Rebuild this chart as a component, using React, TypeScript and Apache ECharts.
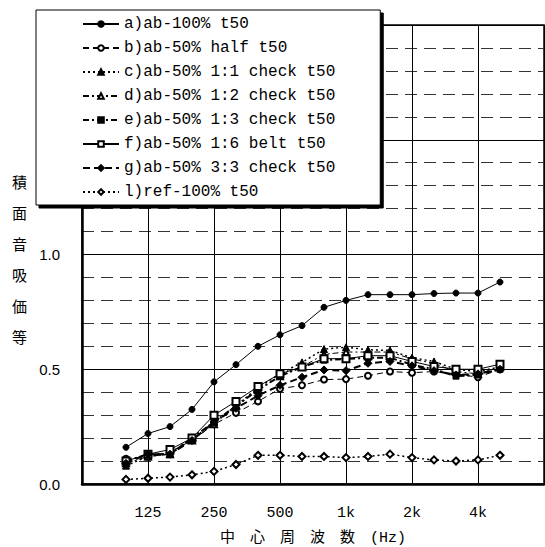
import React, { useEffect, useRef } from "react";
import * as echarts from "echarts";

// 1/3-octave band centre frequencies (Hz)
const freqs = [100, 125, 160, 200, 250, 315, 400, 500, 630, 800, 1000, 1250, 1600, 2000, 2500, 3150, 4000, 5000];

// tick positions (band index) and labels
const xTickIdx = [1, 4, 7, 10, 13, 16];
const xTickLabels = ["125", "250", "500", "1k", "2k", "4k"];

const seriesNames = [
  "a)ab-100% t50",
  "b)ab-50% half t50",
  "c)ab-50% 1:1 check t50",
  "d)ab-50% 1:2 check t50",
  "e)ab-50% 1:3 check t50",
  "f)ab-50% 1:6 belt t50",
  "g)ab-50% 3:3 check t50",
  "l)ref-100% t50",
];

const seriesA = [0.16, 0.22, 0.25, 0.325, 0.445, 0.52, 0.60, 0.65, 0.69, 0.77, 0.80, 0.825, 0.825, 0.825, 0.83, 0.832, 0.832, 0.88];
const seriesB = [0.11, 0.12, 0.14, 0.19, 0.26, 0.31, 0.36, 0.415, 0.43, 0.455, 0.457, 0.472, 0.49, 0.485, 0.49, 0.48, 0.465, 0.50];
const seriesC = [0.08, 0.12, 0.13, 0.20, 0.27, 0.34, 0.42, 0.48, 0.53, 0.588, 0.596, 0.585, 0.582, 0.55, 0.534, 0.50, 0.49, 0.51];
const seriesD = [0.09, 0.12, 0.13, 0.19, 0.26, 0.34, 0.41, 0.47, 0.51, 0.565, 0.575, 0.575, 0.575, 0.545, 0.525, 0.49, 0.48, 0.51];
const seriesE = [0.10, 0.13, 0.13, 0.20, 0.27, 0.34, 0.41, 0.47, 0.51, 0.54, 0.545, 0.55, 0.55, 0.52, 0.50, 0.47, 0.475, 0.50];
const seriesF = [0.10, 0.13, 0.15, 0.20, 0.30, 0.36, 0.425, 0.48, 0.51, 0.546, 0.546, 0.559, 0.559, 0.534, 0.512, 0.50, 0.50, 0.522];
const seriesG = [0.09, 0.13, 0.13, 0.19, 0.27, 0.33, 0.385, 0.43, 0.465, 0.497, 0.494, 0.526, 0.534, 0.515, 0.494, 0.475, 0.48, 0.50];
const seriesL = [0.02, 0.025, 0.03, 0.04, 0.055, 0.085, 0.125, 0.125, 0.12, 0.12, 0.115, 0.12, 0.13, 0.115, 0.105, 0.10, 0.105, 0.125];

const yNameChars = ["等", "価", "吸", "音", "面", "積"];
const xName = "中　心　周　波　数　(Hz)";

const allValues = [seriesA, seriesB, seriesC, seriesD, seriesE, seriesF, seriesG, seriesL];

const styles = [
  { symbol: "circle", size: 6, type: "solid", width: 1 },
  { symbol: "emptyCircle", size: 6, type: [6, 4], width: 1 },
  { symbol: "triangle", size: 7, type: [2, 3], width: 1.5 },
  { symbol: "emptyTriangle", size: 6, type: [6, 3, 2, 3], width: 1 },
  { symbol: "rect", size: 6, type: [6, 3, 2, 3], width: 2 },
  { symbol: "emptyRect", size: 7, type: "solid", width: 1 },
  { symbol: "diamond", size: 8, type: [7, 4], width: 2 },
  { symbol: "emptyDiamond", size: 7, type: [2, 3], width: 1.5 },
];

export default function App() {
  const ref = useRef<HTMLDivElement>(null);
  useEffect(() => {
    if (!ref.current) return;
    const chart = echarts.init(ref.current, null, { renderer: "svg", width: 545, height: 547 });
    const series = allValues.map((vals, k) => ({
      name: seriesNames[k],
      type: "line",
      data: vals.map((v, i) => [i, v]),
      symbol: styles[k].symbol,
      symbolSize: styles[k].size,
      lineStyle: { color: "#000", width: styles[k].width, type: styles[k].type },
      itemStyle: { color: "#000", borderColor: "#000", borderWidth: 1 },
      emphasis: { disabled: true },
      z: 2,
    }));
    const tickMap: Record<number, string> = {};
    xTickIdx.forEach((t, i) => (tickMap[t] = xTickLabels[i]));
    const option: any = {
      animation: false,
      backgroundColor: "#fff",
      grid: {
        left: 82,
        right: 1,
        top: 25,
        bottom: 63,
        show: true,
        borderColor: "#000",
        borderWidth: 1.5,
        containLabel: false,
        outerBoundsMode: "none",
      },
      xAxis: {
        type: "value",
        min: -2,
        max: 19,
        interval: 3,
        axisLine: { show: true, onZero: false, lineStyle: { color: "#000", width: 2.5 } },
        axisTick: { show: false },
        splitLine: { show: true, lineStyle: { color: "#000", width: 1 } },
        axisLabel: {
          formatter: (v: number) => tickMap[v] ?? "",
          margin: 22,
          fontFamily: "Liberation Mono",
          fontSize: 15,
          color: "#000",
        },
        name: xName,
        nameLocation: "middle",
        nameGap: 46,
        nameTextStyle: {
          fontFamily: "Liberation Mono, Noto Sans CJK JP",
          fontSize: 15,
          lineHeight: 16,
          color: "#000",
        },
      },
      yAxis: {
        type: "value",
        min: 0,
        max: 2,
        interval: 0.5,
        axisLine: { show: true, onZero: false, lineStyle: { color: "#000", width: 2.5 } },
        axisTick: { show: false },
        splitLine: { show: true, lineStyle: { color: "#000", width: 1 } },
        minorTick: { show: false, splitNumber: 5 },
        minorSplitLine: { show: true, lineStyle: { color: "#333", width: 1, type: [12, 7] } },
        axisLabel: {
          formatter: (v: number) => v.toFixed(1),
          margin: 22,
          fontFamily: "Liberation Sans",
          fontSize: 15,
          color: "#000",
        },
      },
      legend: {
        orient: "vertical",
        left: 36,
        top: 10,
        padding: [6, 45, 5, 46],
        itemWidth: 36,
        itemHeight: 7,
        itemGap: 8,
        backgroundColor: "#fff",
        borderColor: "#000",
        borderWidth: 1,
        shadowColor: "#000",
        shadowOffsetX: 3,
        shadowOffsetY: 3,
        shadowBlur: 0,
        textStyle: { fontFamily: "Liberation Mono", fontSize: 16, color: "#000" },
        data: seriesNames,
        z: 10,
      },
      graphic: yNameChars.map((c, i) => ({
        type: "text",
        left: 12,
        top: 329 - i * 31,
        style: {
          text: c,
          font: "15px 'Noto Sans CJK JP'",
          fill: "#000",
        },
      })),
      series,
    };
    chart.setOption(option);
    return () => chart.dispose();
  }, []);
  return <div ref={ref} style={{ width: 545, height: 547, position: "absolute", left: 0, top: 0 }} />;
}
